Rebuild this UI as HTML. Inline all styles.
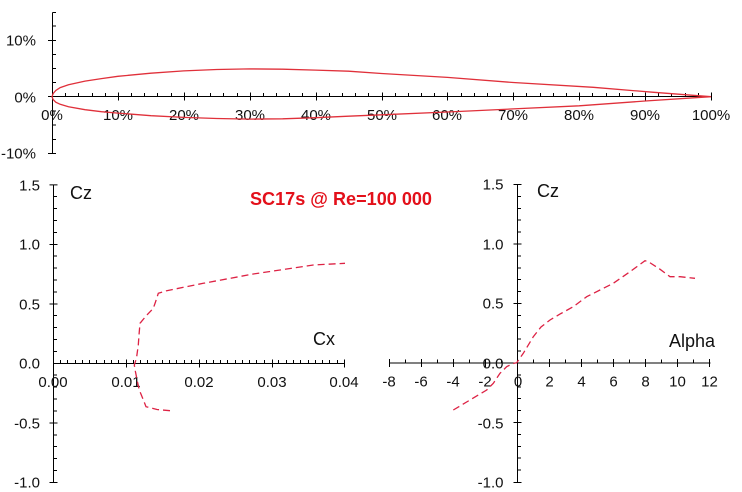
<!DOCTYPE html>
<html><head><meta charset="utf-8"><style>
html,body{margin:0;padding:0;background:#fff;}
svg{display:block;}
text{font-family:"Liberation Sans",Arial,sans-serif;fill:#111;}
.t{font-size:15px;}
.a{font-size:18px;}
</style></head><body>
<svg width="742" height="492" viewBox="0 0 742 492" xmlns="http://www.w3.org/2000/svg">
<rect width="742" height="492" fill="#fff"/>

<!-- ===== TOP: airfoil ===== -->
<g stroke="#000" stroke-width="1" fill="none">
<path d="M52.5 12.5V153.5 M52 96.5H711.5"/>
<path d="M48 40.5H56 M48 96.5H56 M48 153.5H56"/>
<path d="M52.5 12.5H56 M52.5 26H56 M52.5 54.5H56 M52.5 68.5H56 M52.5 82.5H56 M52.5 111H56 M52.5 125H56 M52.5 139.5H56"/>
<path d="M118.5 92.5V100.5 M184.5 92.5V100.5 M250.5 92.5V100.5 M316.5 92.5V100.5 M382.5 92.5V100.5 M447.5 92.5V100.5 M513.5 92.5V100.5 M579.5 92.5V100.5 M645.5 92.5V100.5 M711.5 92.5V100.5"/>
<path d="M65.5 93V96.5 M78.5 93V96.5 M92.5 93V96.5 M105.5 93V96.5 M131.5 93V96.5 M144.5 93V96.5 M157.5 93V96.5 M171.5 93V96.5 M197.5 93V96.5 M210.5 93V96.5 M223.5 93V96.5 M237.5 93V96.5 M263.5 93V96.5 M276.5 93V96.5 M289.5 93V96.5 M302.5 93V96.5 M329.5 93V96.5 M342.5 93V96.5 M355.5 93V96.5 M368.5 93V96.5 M395.5 93V96.5 M408.5 93V96.5 M421.5 93V96.5 M434.5 93V96.5 M461.5 93V96.5 M474.5 93V96.5 M487.5 93V96.5 M500.5 93V96.5 M526.5 93V96.5 M540.5 93V96.5 M553.5 93V96.5 M566.5 93V96.5 M592.5 93V96.5 M606.5 93V96.5 M619.5 93V96.5 M632.5 93V96.5 M658.5 93V96.5 M671.5 93V96.5 M685.5 93V96.5 M698.5 93V96.5"/>
</g>
<g class="t">
<text x="36" y="45.5" text-anchor="end">10%</text>
<text x="36" y="102.5" text-anchor="end">0%</text>
<text x="36" y="158.5" text-anchor="end">-10%</text>
<text x="52" y="120" text-anchor="middle">0%</text>
<text x="118" y="120" text-anchor="middle">10%</text>
<text x="184" y="120" text-anchor="middle">20%</text>
<text x="250" y="120" text-anchor="middle">30%</text>
<text x="316" y="120" text-anchor="middle">40%</text>
<text x="382" y="120" text-anchor="middle">50%</text>
<text x="447" y="120" text-anchor="middle">60%</text>
<text x="513" y="120" text-anchor="middle">70%</text>
<text x="579" y="120" text-anchor="middle">80%</text>
<text x="645" y="120" text-anchor="middle">90%</text>
<text x="711" y="120" text-anchor="middle">100%</text>
</g>
<path fill="none" stroke="#e0303a" stroke-width="1.3" d="
M711 96.7
L652.3 92.2 L593.3 87.3 L513.3 82.5 L447.4 77.4 L381.5 73.5 L348.5 71.2 L315.6 70.1 L282.7 69.2 L249.7 68.9 L216.8 69.5 L183.8 70.9 L150.9 73.2 L117.9 76.3 L101.4 78.6 L85 81.1 L68.5 84.8 L60.2 87.6 L55.8 90.5 L53.2 93.5 L52 96.7
L53.2 99.6 L55.8 102.2 L60.2 104.3 L68.5 106.8 L85 109.7 L101.4 111.7 L117.9 113.1 L150.9 115.7 L183.8 117.4 L216.8 118.5 L249.7 119.1 L282.7 118.8 L315.6 117.7 L348.5 116.2 L381.5 114.8 L447.4 112 L513.3 108.9 L579.2 105.8 L645.1 101 L711 96.7"/>

<!-- ===== BOTTOM LEFT ===== -->
<g stroke="#000" stroke-width="1" fill="none">
<path d="M53.5 185V483 M53 363.5H344.5"/>
<path d="M49.5 184.9H57.5 M49.5 244.5H57.5 M49.5 304H57.5 M49.5 423H57.5 M49.5 482.5H57.5"/>
<path d="M53.5 196.5H57 M53.5 208.5H57 M53.5 220.5H57 M53.5 232.5H57 M53.5 256H57 M53.5 268H57 M53.5 280H57 M53.5 292H57 M53.5 315.5H57 M53.5 327.5H57 M53.5 339.5H57 M53.5 351.5H57 M53.5 375H57 M53.5 387H57 M53.5 399H57 M53.5 411H57 M53.5 435H57 M53.5 446.5H57 M53.5 458.5H57 M53.5 470.5H57"/>
<path d="M126.5 359.5V367.5 M199.5 359.5V367.5 M272.5 359.5V367.5 M344.5 359.5V367.5"/>
<path d="M60.5 360V363.5 M67.5 360V363.5 M75.5 360V363.5 M82.5 360V363.5 M89.5 360V363.5 M96.5 360V363.5 M104.5 360V363.5 M111.5 360V363.5 M118.5 360V363.5 M133.5 360V363.5 M140.5 360V363.5 M147.5 360V363.5 M155.5 360V363.5 M162.5 360V363.5 M169.5 360V363.5 M176.5 360V363.5 M184.5 360V363.5 M191.5 360V363.5 M206.5 360V363.5 M213.5 360V363.5 M220.5 360V363.5 M227.5 360V363.5 M235.5 360V363.5 M242.5 360V363.5 M249.5 360V363.5 M256.5 360V363.5 M264.5 360V363.5 M278.5 360V363.5 M286.5 360V363.5 M293.5 360V363.5 M300.5 360V363.5 M308.5 360V363.5 M315.5 360V363.5 M322.5 360V363.5 M329.5 360V363.5 M337.5 360V363.5"/>
</g>
<g class="t">
<text x="40" y="190.5" text-anchor="end">1.5</text>
<text x="40" y="249.5" text-anchor="end">1.0</text>
<text x="40" y="309.5" text-anchor="end">0.5</text>
<text x="40" y="368.5" text-anchor="end">0.0</text>
<text x="40" y="428.5" text-anchor="end">-0.5</text>
<text x="40" y="487.5" text-anchor="end">-1.0</text>
<text x="53" y="387" text-anchor="middle">0.00</text>
<text x="126" y="387" text-anchor="middle">0.01</text>
<text x="199" y="387" text-anchor="middle">0.02</text>
<text x="272" y="387" text-anchor="middle">0.03</text>
<text x="344" y="387" text-anchor="middle">0.04</text>
</g>
<text class="a" x="70" y="199">Cz</text>
<text class="a" x="313" y="345">Cx</text>
<polyline fill="none" stroke="#dd2244" stroke-width="1.3" stroke-dasharray="7,4" points="170,410.7 157,409.5 146,406.7 143,399 139.3,390 137.5,382 135.5,372 134.3,365 136.5,358 138.3,345 139,335 140,323.3 146,316 153.3,308.3 155.5,302 158.3,293.3 166.7,290.7 203.3,283.3 253.3,274 286.7,269 313.3,265 345,263.3"/>

<text x="250" y="205" font-size="18" font-weight="bold" textLength="182" lengthAdjust="spacingAndGlyphs" style="fill:#e3101a;font-family:'Liberation Sans',Arial,sans-serif">SC17s @ Re=100 000</text>

<!-- ===== BOTTOM RIGHT ===== -->
<g stroke="#000" stroke-width="1" fill="none">
<path d="M517.5 184.5V483 M389 363H710.5"/>
<path d="M513.5 184.5H521.5 M513.5 244H521.5 M513.5 303.5H521.5 M513.5 422.5H521.5 M513.5 482.5H521.5"/>
<path d="M517.5 196.5H521 M517.5 208.5H521 M517.5 220H521 M517.5 232H521 M517.5 256H521 M517.5 268H521 M517.5 279.5H521 M517.5 291.5H521 M517.5 315.5H521 M517.5 327.5H521 M517.5 339H521 M517.5 351H521 M517.5 375H521 M517.5 387H521 M517.5 398.5H521 M517.5 410.5H521 M517.5 434.5H521 M517.5 446.5H521 M517.5 458H521 M517.5 470H521"/>
<path d="M389.5 359V367 M421.5 359V367 M453.5 359V367 M485.5 359V367 M549.5 359V367 M581.5 359V367 M613.5 359V367 M645.5 359V367 M677.5 359V367 M709.5 359V367"/>
<path d="M405.5 359.5V363 M437.5 359.5V363 M469.5 359.5V363 M501.5 359.5V363 M533.5 359.5V363 M565.5 359.5V363 M597.5 359.5V363 M629.5 359.5V363 M661.5 359.5V363 M693.5 359.5V363"/>
</g>
<g class="t">
<text x="503.5" y="189.5" text-anchor="end">1.5</text>
<text x="503.5" y="249.5" text-anchor="end">1.0</text>
<text x="503.5" y="308.5" text-anchor="end">0.5</text>
<text x="503.5" y="368.5" text-anchor="end">0.0</text>
<text x="503.5" y="428.5" text-anchor="end">-0.5</text>
<text x="503.5" y="487.5" text-anchor="end">-1.0</text>
<text x="389" y="386.5" text-anchor="middle">-8</text>
<text x="421" y="386.5" text-anchor="middle">-6</text>
<text x="453" y="386.5" text-anchor="middle">-4</text>
<text x="485" y="386.5" text-anchor="middle">-2</text>
<text x="518" y="386.5" text-anchor="middle">0</text>
<text x="549.5" y="386.5" text-anchor="middle">2</text>
<text x="581.5" y="386.5" text-anchor="middle">4</text>
<text x="613.5" y="386.5" text-anchor="middle">6</text>
<text x="645.5" y="386.5" text-anchor="middle">8</text>
<text x="677.5" y="386.5" text-anchor="middle">10</text>
<text x="709.5" y="386.5" text-anchor="middle">12</text>
</g>
<text class="a" x="537" y="197">Cz</text>
<text class="a" x="669" y="347">Alpha</text>
<polyline fill="none" stroke="#dd2244" stroke-width="1.3" stroke-dasharray="7,4" points="453.3,410 470,400 486.7,390 493.3,383.3 500,373.3 506.7,366.7 513,363.5 516.7,362.7 520,358 523.3,353.3 533.3,336.7 541,327 550,320 561,313.5 573.3,306.7 586.7,296.7 600,290 613.3,283.3 630,271.7 645,260.7 648,261.5 659,268.5 670,276.7 680,276.7 695,278.3"/>
</svg>
</body></html>
